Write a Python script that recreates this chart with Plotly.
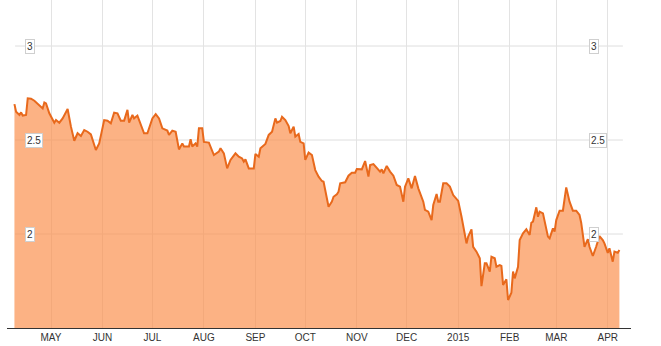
import plotly.graph_objects as go

dates = ["2014-04-09","2014-04-10","2014-04-12","2014-04-13","2014-04-14","2014-04-16","2014-04-17","2014-04-19","2014-04-21","2014-04-24","2014-04-26","2014-04-27","2014-04-28","2014-04-30",
"2014-05-02","2014-05-03","2014-05-04","2014-05-06","2014-05-08","2014-05-11","2014-05-13","2014-05-15","2014-05-17","2014-05-19","2014-05-21","2014-05-23","2014-05-25","2014-05-28","2014-05-30",
"2014-06-02","2014-06-04","2014-06-06","2014-06-08","2014-06-10","2014-06-12","2014-06-14","2014-06-16","2014-06-17","2014-06-19","2014-06-20","2014-06-22","2014-06-24","2014-06-26","2014-06-28",
"2014-07-01","2014-07-03","2014-07-05","2014-07-07","2014-07-10","2014-07-11","2014-07-13","2014-07-15","2014-07-17","2014-07-19","2014-07-20","2014-07-23","2014-07-24","2014-07-25","2014-07-27","2014-07-28","2014-07-29","2014-07-31",
"2014-08-01","2014-08-04","2014-08-07","2014-08-10","2014-08-11","2014-08-13","2014-08-15","2014-08-17","2014-08-20","2014-08-22","2014-08-24","2014-08-25","2014-08-26","2014-08-28","2014-08-31",
"2014-09-01","2014-09-03","2014-09-04","2014-09-07","2014-09-09","2014-09-11","2014-09-13","2014-09-14","2014-09-16","2014-09-17","2014-09-19","2014-09-21","2014-09-22","2014-09-24","2014-09-25","2014-09-27","2014-09-28","2014-09-30",
"2014-10-01","2014-10-03","2014-10-05","2014-10-07","2014-10-09","2014-10-11","2014-10-12","2014-10-15","2014-10-17","2014-10-18","2014-10-20","2014-10-21","2014-10-22","2014-10-25","2014-10-27","2014-10-29","2014-10-31",
"2014-11-01","2014-11-04","2014-11-06","2014-11-08","2014-11-09","2014-11-11","2014-11-13","2014-11-15","2014-11-16","2014-11-17","2014-11-19","2014-11-21","2014-11-23","2014-11-25","2014-11-27","2014-11-29","2014-11-30",
"2014-12-02","2014-12-04","2014-12-06","2014-12-08","2014-12-11","2014-12-12","2014-12-14","2014-12-16","2014-12-17","2014-12-19","2014-12-20","2014-12-21","2014-12-23","2014-12-25","2014-12-27","2014-12-29","2014-12-31",
"2015-01-01","2015-01-03","2015-01-06","2015-01-07","2015-01-09","2015-01-10","2015-01-12","2015-01-14","2015-01-15","2015-01-17","2015-01-18","2015-01-20","2015-01-21","2015-01-23","2015-01-24","2015-01-26","2015-01-27","2015-01-28","2015-01-30","2015-01-31",
"2015-02-02","2015-02-03","2015-02-04","2015-02-06","2015-02-07","2015-02-09","2015-02-11","2015-02-13","2015-02-14","2015-02-15","2015-02-17","2015-02-18","2015-02-19","2015-02-21","2015-02-22","2015-02-24","2015-02-25","2015-02-27","2015-02-28",
"2015-03-01","2015-03-03","2015-03-05","2015-03-07","2015-03-09","2015-03-11","2015-03-13","2015-03-15","2015-03-16","2015-03-18","2015-03-20","2015-03-21","2015-03-23","2015-03-25","2015-03-27","2015-03-29","2015-03-30",
"2015-04-01","2015-04-02","2015-04-04","2015-04-05","2015-04-07","2015-04-08"]

values = [2.691, 2.650, 2.633, 2.647, 2.630, 2.633, 2.722, 2.720, 2.709, 2.686, 2.668, 2.700, 2.695, 2.642,
2.606, 2.592, 2.606, 2.592, 2.615, 2.665, 2.571, 2.496, 2.536, 2.521, 2.553, 2.544, 2.530, 2.447, 2.482,
2.606, 2.603, 2.589, 2.645, 2.642, 2.603, 2.603, 2.660, 2.592, 2.633, 2.615, 2.630, 2.580, 2.536, 2.536,
2.615, 2.638, 2.615, 2.562, 2.550, 2.527, 2.550, 2.544, 2.450, 2.482, 2.465, 2.465, 2.504, 2.465, 2.482, 2.465, 2.562, 2.562,
2.490, 2.486, 2.420, 2.438, 2.456, 2.429, 2.349, 2.394, 2.429, 2.411, 2.402, 2.385, 2.397, 2.349, 2.349,
2.426, 2.411, 2.456, 2.479, 2.527, 2.544, 2.615, 2.592, 2.601, 2.624, 2.606, 2.574, 2.536, 2.571, 2.518, 2.532, 2.490, 2.482,
2.394, 2.433, 2.420, 2.340, 2.305, 2.282, 2.278, 2.145, 2.172, 2.198, 2.211, 2.225, 2.270, 2.275, 2.310, 2.326, 2.326,
2.346, 2.344, 2.388, 2.305, 2.367, 2.372, 2.349, 2.332, 2.344, 2.323, 2.362, 2.332, 2.310, 2.261, 2.252, 2.172, 2.252,
2.296, 2.243, 2.309, 2.243, 2.172, 2.128, 2.119, 2.074, 2.154, 2.213, 2.172, 2.172, 2.270, 2.270, 2.252, 2.207, 2.184,
2.176, 2.092, 1.950, 1.986, 2.025, 1.932, 1.906, 1.871, 1.723, 1.844, 1.844, 1.800, 1.879, 1.871, 1.826, 1.835, 1.830, 1.729, 1.759, 1.649,
1.688, 1.800, 1.764, 1.826, 1.968, 2.004, 2.025, 1.995, 2.060, 2.066, 2.142, 2.092, 2.119, 2.110, 2.066, 1.986, 1.977, 2.030, 2.013,
2.074, 2.124, 2.124, 2.248, 2.172, 2.124, 2.124, 2.101, 2.060, 1.932, 1.972, 1.932, 1.883, 1.932, 1.989, 1.968, 1.950,
1.900, 1.924, 1.853, 1.906, 1.900, 1.915]

month_ticks = ["2014-05-01","2014-06-01","2014-07-01","2014-08-01","2014-09-01","2014-10-01",
               "2014-11-01","2014-12-01","2015-01-01","2015-02-01","2015-03-01","2015-04-01"]
month_labels = ["MAY","JUN","JUL","AUG","SEP","OCT","NOV","DEC","2015","FEB","MAR","APR"]
y_ticks = [2, 2.5, 3]
y_labels = ["2", "2.5", "3"]

fig = go.Figure()
fig.add_trace(go.Scatter(
    x=dates, y=values, mode="lines",
    line=dict(color="#E8691C", width=2),
    fill="tozeroy", fillcolor="rgba(251,142,74,0.68)",
    hoverinfo="skip", showlegend=False))

shapes = []
annotations = []
for v, t in zip(y_ticks, y_labels):
    shapes.append(dict(type="line", xref="paper", yref="y", x0=0.013, x1=0.987, y0=v, y1=v,
                       line=dict(color="#dedede", width=1), layer="below"))
    for xp in (0.0288, 0.9332):
        annotations.append(dict(xref="paper", yref="y", x=xp, y=v, text=t, showarrow=False,
                                xanchor="left", yanchor="middle",
                                font=dict(family="Arial, Liberation Sans, sans-serif", size=10, color="#333"),
                                bgcolor="white", bordercolor="#cfcfcf", borderwidth=1, borderpad=1))

fig.update_layout(
    width=661, height=346,
    margin=dict(l=7, r=30, t=0, b=18),
    paper_bgcolor="white", plot_bgcolor="white",
    shapes=shapes, annotations=annotations,
    xaxis=dict(type="date", range=["2014-04-04 12:40", "2015-04-14 23:20"],
               tickvals=month_ticks, ticktext=month_labels,
               showgrid=True, gridcolor="#e3e3e3", gridwidth=1,
               showline=True, linecolor="#333", linewidth=1,
               ticks="", zeroline=False,
               tickfont=dict(family="Liberation Sans Narrow, Arial Narrow, Arial, sans-serif", size=10, color="#333")),
    yaxis=dict(range=[1.5, 3.2447], showgrid=False, showticklabels=False,
               zeroline=False, showline=False, ticks=""),
)

fig.write_html("out.html")
